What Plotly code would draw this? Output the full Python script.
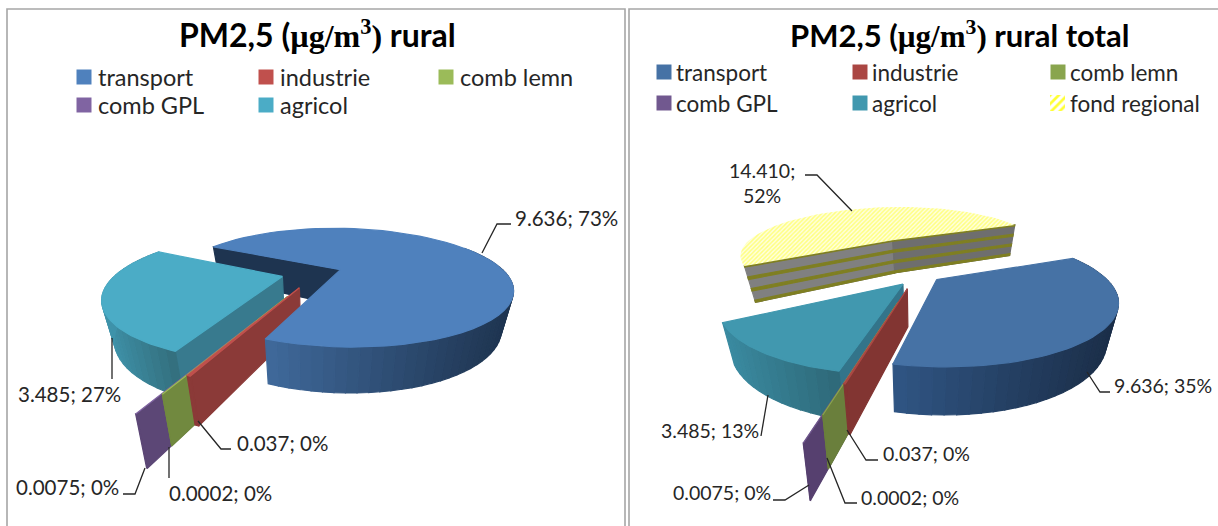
import math
import plotly.graph_objects as go

# ---------- data ----------
categories = ["transport", "industrie", "comb lemn", "comb GPL", "agricol"]
categories_total = categories + ["fond regional"]
values_rural = [9.636, 0.037, 0.0002, 0.0075, 3.485]
values_total = [9.636, 0.037, 0.0002, 0.0075, 3.485, 14.410]
labels_rural = ["9.636; 73%", "0.037; 0%", "0.0002; 0%", "0.0075; 0%", "3.485; 27%"]
labels_total = ["9.636; 35%", "0.037; 0%", "0.0002; 0%", "0.0075; 0%", "3.485; 13%", "14.410;<br>52%"]
title_rural = "rural"
title_total = "rural total"

# ---------- styles ----------
TOP_L = ["#4F81BD", "#C0504D", "#9BBB59", "#8064A2", "#4BACC6"]
TOP_R = ["#4672A5", "#AA4643", "#89A54E", "#71588F", "#4198AF", "#FFFF80"]
SIDE_L = [("#3F6899", "#1E3450"), ("#8B3A38", "#8B3A38"), ("#71893F", "#71893F"),
          ("#5C4776", "#5C4776"), ("#3F93AA", "#34707F")]
SIDE_R = [("#2F5482", "#1B2E48"), ("#823532", "#823532"), ("#6A7F3C", "#6A7F3C"),
          ("#56406F", "#56406F"), ("#3A8AA0", "#2F6A7A"), ("#808080", "#6E6E6E")]
RADIAL_L = ["#1E3450", "#8B3A38", "#71893F", "#5C4776", "#387A8E"]
RADIAL_R = ["#1B2E48", "#823532", "#6A7F3C", "#56406F", "#33748A", "#808080"]
TXT = "#262626"
FONT = "Lato, Carlito, sans-serif"
R, Q, K, H = 165, 56, 0.31, 36


def hex2rgb(c):
    return [int(c[i:i + 2], 16) for i in (1, 3, 5)]


def mix(a, b, t):
    a, b = hex2rgb(a), hex2rgb(b)
    return "rgb(%d,%d,%d)" % tuple(round(a[i] + (b[i] - a[i]) * t) for i in range(3))


fig = go.Figure()


def poly(xs, ys, color, pattern=None):
    kw = dict(x=xs + xs[:1], y=ys + ys[:1], mode="lines", fill="toself", fillcolor=color,
              line=dict(color=color, width=1.2), hoverinfo="skip", showlegend=False)
    if pattern:
        kw["fillpattern"] = pattern
        kw["line"] = dict(width=0)
    fig.add_trace(go.Scatter(**kw))


class Pie3D:
    def __init__(self, cx, cy):
        self.cx, self.cy = cx, cy

    def pt(self, u, v, z=0.0):
        s = 1 / (1 - K * v)
        x = self.cx + R * u * s
        y = self.cy + Q * v * s
        if z:
            x = self.cx + (x - self.cx) * (1 - 0.06 * z)
            y = y + H * z * s ** 0.7
        return x, y

    def wedge_pt(self, a, r, e, mid, z=0.0):
        u = e * math.sin(mid) + r * math.sin(a)
        v = -e * math.cos(mid) + -r * math.cos(a)
        return self.pt(u, v, z)

    def arc(self, a0, a1, e, mid, z=0.0, n=60):
        return [self.wedge_pt(a0 + (a1 - a0) * i / n, 1, e, mid, z) for i in range(n + 1)]

    def radial(self, a, e, mid, color, z0=0.0, z1=1.0):
        p = [self.wedge_pt(a, 0, e, mid, z0), self.wedge_pt(a, 1, e, mid, z0),
             self.wedge_pt(a, 1, e, mid, z1), self.wedge_pt(a, 0, e, mid, z1)]
        poly([q[0] for q in p], [q[1] for q in p], color)

    def curved(self, a0, a1, e, mid, side):
        step = math.radians(3)
        n = max(1, int((a1 - a0) / step))
        pts = [a0 + (a1 - a0) * i / n for i in range(n + 1)]
        vis = [i for i in range(n) if -math.cos(pts[i]) > -0.45 or -math.cos(pts[i + 1]) > -0.45]
        if not vis:
            return
        xs = [self.wedge_pt(pts[i], 1, e, mid)[0] for i in vis]
        xa, xb = min(xs), max(xs)
        for i in vis:
            p0 = self.wedge_pt(pts[i], 1, e, mid)
            p1 = self.wedge_pt(pts[i + 1], 1, e, mid)
            p2 = self.wedge_pt(pts[i + 1], 1, e, mid, 1)
            p3 = self.wedge_pt(pts[i], 1, e, mid, 1)
            t = (p0[0] - xa) / max(xb - xa, 1)
            c = mix(side[0], side[1], t)
            poly([p0[0], p1[0], p2[0], p3[0]], [p0[1], p1[1], p2[1], p3[1]], c)

    def top(self, a0, a1, e, mid, color, pattern=None):
        apex = self.wedge_pt(a0, 0, e, mid)
        rim = self.arc(a0, a1, e, mid)
        poly([apex[0]] + [q[0] for q in rim], [apex[1]] + [q[1] for q in rim], color, pattern)


def spans(values, first_deg):
    tot = sum(values)
    out, a = [], math.radians(first_deg)
    for v in values:
        b = a + v / tot * 2 * math.pi
        out.append((a, b, (a + b) / 2))
        a = b
    return out


def draw_slice(p, sp, e, top_c, side, rad_c, pattern=None, stripes=None):
    a0, a1, mid = sp
    if -math.sin(a0) > 0:
        p.radial(a0, e, mid, side[0] if stripes else rad_c)
    if math.sin(a1) > 0:
        p.radial(a1, e, mid, side[1] if stripes else rad_c)
    if not stripes:
        p.curved(a0, a1, e, mid, side)
    if stripes:
        for f0, f1 in ((0.0, 0.03), (0.30, 0.37), (0.62, 0.69), (0.94, 1.0)):
            p.radial(a0, e, mid, stripes, f0, f1)
            p.radial(a1, e, mid, stripes, f0, f1)
    p.top(a0, a1, e, mid, top_c, pattern)


# left pie: order = dark notch of transport, agricol, small slices, transport
pl = Pie3D(312, 273)
ps = Pie3D(319, 272)
sl = spans(values_rural, 299)
pull_l = [0.186, 0.28, 0.42, 0.55, 0.186]
p_a0, _, p_m = sl[0]
pl.radial(p_a0, pull_l[0], p_m, RADIAL_L[0])
draw_slice(pl, sl[4], pull_l[4], TOP_L[4], SIDE_L[4], RADIAL_L[4])
for i in (3, 2, 1):
    draw_slice(ps, sl[i], pull_l[i], TOP_L[i], SIDE_L[i], RADIAL_L[i])
a0, a1, m = sl[0]
pl.curved(a0, a1, pull_l[0], m, SIDE_L[0])
pl.top(a0, a1, pull_l[0], m, TOP_L[0])

# right pie
pr = Pie3D(917, 274)
pa = Pie3D(920, 276)
pf = Pie3D(929, 264)
sr = spans(values_total, 66.5)
pull_r = [0.15, 0.25, 0.45, 0.60, 0.17, 0.55]
hatch = dict(shape="/", fgcolor="#FFFF80", bgcolor="#FFFFE0", size=3, solidity=0.5, fillmode="replace")
draw_slice(pf, sr[5], pull_r[5], "#FFFFB0", SIDE_R[5], RADIAL_R[5], pattern=hatch, stripes="#7F7F22")
draw_slice(pa, sr[4], pull_r[4], TOP_R[4], SIDE_R[4], RADIAL_R[4])
for i in (3, 2, 1):
    draw_slice(pr, sr[i], pull_r[i], TOP_R[i], SIDE_R[i], RADIAL_R[i])
draw_slice(pr, sr[0], pull_r[0], TOP_R[0], SIDE_R[0], RADIAL_R[0])

# ---------- legends ----------
ann = []


def text(x, y, s, size=20, anchor="left", color=TXT):
    ann.append(dict(x=x, y=y, xref="x", yref="y", text=s, showarrow=False, xanchor=anchor, yanchor="middle",
                    font=dict(family=FONT, size=size, color=color), align="center", xshift=-1))


legend_l = [(76, 77), (258, 77), (438, 77), (76, 105), (258, 105)]
legend_r = [(656, 72), (852, 72), (1050, 72), (656, 103), (852, 103), (1050, 103)]
for names, pos, cols, fs, tx in ((categories, legend_l, TOP_L, 23.5, 21), (categories_total, legend_r, TOP_R, 22.5, 19)):
    for name, (x, y), c in zip(names, pos, cols):
        if name == "fond regional":
            poly([x, x + 15, x + 15, x], [y - 8, y - 8, y + 8, y + 8], "#FFFFFF",
                 pattern=dict(shape="/", fgcolor="#FFFF33", bgcolor="#FFFFFF", size=6, solidity=0.45, fillmode="replace"))
        else:
            fig.add_trace(go.Scatter(x=[x + 8], y=[y], mode="markers", hoverinfo="skip", showlegend=False,
                                     marker=dict(symbol="square", size=15, color=c)))
        text(x + tx, y, name, size=fs)

# titles
SERIF = "<span style='font-family:Liberation Serif'>"
for cx, t, fs in ((318, title_rural, 32), (961, title_total, 31)):
    text(cx, 34, f"<b>PM2,5 ({SERIF}µg/m<sup>3</sup>)</span> {t}</b>", size=fs, anchor="center", color="#000000")

# data labels
lab_l = [(514, 218), (236, 443), (168, 493), (15, 487), (17, 394)]
lab_r = [(1113, 385), (882, 453), (860, 497), (672, 492), (660, 430)]
for s, (x, y) in zip(labels_rural, lab_l):
    text(x, y, s, size=20.5)
for s, (x, y) in zip(labels_total[:5], lab_r):
    text(x, y, s, size=19.5)
text(763, 183, labels_total[5], size=19.5, anchor="center")

leaders = [
    [(482, 253), (497, 224), (511, 224)], [(112, 338), (112, 379)], [(198, 421), (221, 449), (231, 449)],
    [(169, 447), (169, 478)], [(145, 468), (135, 494), (123, 494)],
    [(805, 175), (817, 175), (852, 211)], [(1087, 372), (1100, 392), (1110, 392)], [(768, 395), (761, 436)],
    [(847, 430), (866, 460), (878, 460)], [(827, 458), (845, 503), (857, 503)], [(809, 485), (785, 500), (773, 500)],
]
shapes = []
for ln in leaders:
    d = "M" + " L".join(f"{x},{y}" for x, y in ln)
    shapes.append(dict(type="path", path=d, xref="x", yref="y", line=dict(color="#262626", width=1.3)))
for x0, x1 in ((7, 625), (629, 1230)):
    shapes.append(dict(type="rect", xref="x", yref="y", x0=x0, x1=x1, y0=9, y1=540, layer="below",
                       line=dict(color="#A6A6A6", width=1.6), fillcolor="white"))

fig.update_layout(
    width=1218, height=526, margin=dict(l=0, r=0, t=0, b=0), paper_bgcolor="white", plot_bgcolor="white",
    xaxis=dict(range=[0, 1218], visible=False, fixedrange=True),
    yaxis=dict(range=[526, 0], visible=False, fixedrange=True),
    showlegend=False, shapes=shapes, annotations=ann,
)
fig.write_html("out.html", config=dict(displayModeBar=False),
               post_script="document.body.style.margin='0';document.body.style.overflow='hidden';")
